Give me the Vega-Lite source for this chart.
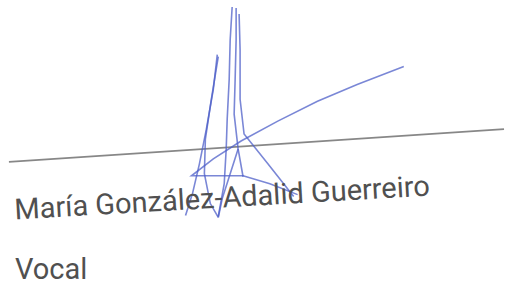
{
  "$schema": "https://vega.github.io/schema/vega-lite/v6.json",
  "width": 508,
  "height": 285,
  "autosize": {"type": "fit", "contains": "padding"},
  "padding": 0,
  "background": "white",
  "config": {"view": {"stroke": null}},
  "datasets": {
    "guide": [
      {"x": 9, "y": 163, "o": 0},
      {"x": 508, "y": 130, "o": 1}
    ],
    "sig": [
      {"s": "s1", "o": 0, "x": 234, "y": 7},
      {"s": "s1", "o": 1, "x": 232, "y": 40},
      {"s": "s1", "o": 2, "x": 231, "y": 80},
      {"s": "s1", "o": 3, "x": 229, "y": 120},
      {"s": "s1", "o": 4, "x": 228, "y": 150},
      {"s": "s1", "o": 5, "x": 226, "y": 185},
      {"s": "s1", "o": 6, "x": 220, "y": 218},
      {"s": "s2", "o": 0, "x": 238, "y": 8},
      {"s": "s2", "o": 1, "x": 238, "y": 40},
      {"s": "s2", "o": 2, "x": 237, "y": 80},
      {"s": "s2", "o": 3, "x": 236, "y": 115},
      {"s": "s2", "o": 4, "x": 240, "y": 150},
      {"s": "s2", "o": 5, "x": 245, "y": 178},
      {"s": "s3", "o": 0, "x": 241, "y": 14},
      {"s": "s3", "o": 1, "x": 242, "y": 50},
      {"s": "s3", "o": 2, "x": 242, "y": 100},
      {"s": "s3", "o": 3, "x": 246, "y": 135},
      {"s": "s3", "o": 4, "x": 270, "y": 165},
      {"s": "s3", "o": 5, "x": 296, "y": 198},
      {"s": "s4", "o": 0, "x": 219, "y": 55},
      {"s": "s4", "o": 1, "x": 215, "y": 90},
      {"s": "s4", "o": 2, "x": 208, "y": 130},
      {"s": "s4", "o": 3, "x": 201, "y": 165},
      {"s": "s4", "o": 4, "x": 194, "y": 195},
      {"s": "s4", "o": 5, "x": 187, "y": 217},
      {"s": "s5", "o": 0, "x": 220, "y": 57},
      {"s": "s5", "o": 1, "x": 213, "y": 100},
      {"s": "s5", "o": 2, "x": 207, "y": 140},
      {"s": "s5", "o": 3, "x": 206, "y": 175},
      {"s": "s5", "o": 4, "x": 212, "y": 205},
      {"s": "s5", "o": 5, "x": 220, "y": 219},
      {"s": "s6", "o": 0, "x": 407, "y": 67},
      {"s": "s6", "o": 1, "x": 360, "y": 85},
      {"s": "s6", "o": 2, "x": 320, "y": 102},
      {"s": "s6", "o": 3, "x": 280, "y": 122},
      {"s": "s6", "o": 4, "x": 243, "y": 142},
      {"s": "s6", "o": 5, "x": 215, "y": 160},
      {"s": "s6", "o": 6, "x": 193, "y": 177},
      {"s": "s6", "o": 7, "x": 245, "y": 177},
      {"s": "s6", "o": 8, "x": 272, "y": 185},
      {"s": "s6", "o": 9, "x": 300, "y": 196},
      {"s": "s7", "o": 0, "x": 220, "y": 219},
      {"s": "s7", "o": 1, "x": 224, "y": 200},
      {"s": "s7", "o": 2, "x": 232, "y": 175},
      {"s": "s7", "o": 3, "x": 240, "y": 150}
    ],
    "labels": [
      {"role": "name", "t": "María González-Adalid Guerreiro", "x": 15, "y": 221},
      {"role": "title", "t": "Vocal", "x": 15, "y": 281}
    ]
  },
  "encoding": {
    "x": {"field": "x", "type": "quantitative", "scale": {"domain": [0, 508], "nice": false, "zero": false}, "axis": null},
    "y": {"field": "y", "type": "quantitative", "scale": {"domain": [0, 285], "nice": false, "zero": false, "reverse": true}, "axis": null}
  },
  "layer": [
    {
      "data": {"name": "guide"},
      "mark": {"type": "line", "color": "#7a7a7a", "strokeWidth": 1.6, "opacity": 0.9},
      "encoding": {"order": {"field": "o", "type": "quantitative"}}
    },
    {
      "data": {"name": "sig"},
      "mark": {"type": "line", "color": "#4d5fc8", "strokeWidth": 1.6, "opacity": 0.75, "interpolate": "linear"},
      "encoding": {
        "detail": {"field": "s", "type": "nominal"},
        "order": {"field": "o", "type": "quantitative"}
      }
    },
    {
      "data": {"name": "labels"},
      "transform": [{"filter": "datum.role === 'name'"}],
      "mark": {"type": "text", "align": "left", "baseline": "alphabetic", "font": "Roboto", "fontSize": 29, "color": "#505050", "angle": -3.3},
      "encoding": {"text": {"field": "t", "type": "nominal"}}
    },
    {
      "data": {"name": "labels"},
      "transform": [{"filter": "datum.role === 'title'"}],
      "mark": {"type": "text", "align": "left", "baseline": "alphabetic", "font": "Roboto", "fontSize": 29, "color": "#505050"},
      "encoding": {"text": {"field": "t", "type": "nominal"}}
    }
  ]
}
